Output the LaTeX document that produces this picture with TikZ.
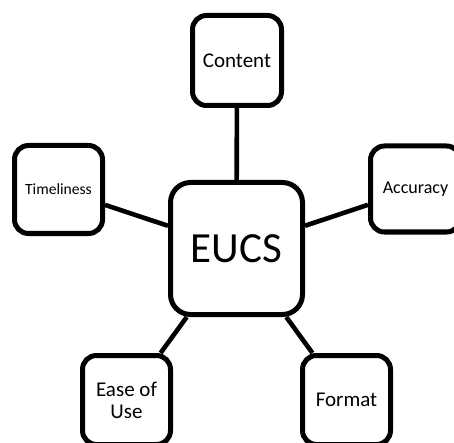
\documentclass[tikz,border=0pt]{standalone}
\usepackage{fontspec}
\setmainfont{Carlito}
\begin{document}
\begin{tikzpicture}[x=1pt,y=-1pt,
  box/.style={draw=black,line width=5pt,rounded corners=14pt,fill=white,
    inner sep=0pt,align=center,minimum width=88pt,minimum height=89pt},
  link/.style={line width=4.6pt}]
\useasboundingbox (0,0) rectangle (454,443);
\clip (0,0) rectangle (454,443);
\node[box,minimum width=132pt,minimum height=132pt,rounded corners=20pt,
  font=\fontsize{43}{46}\selectfont] (eucs) at (236.5,248.5) {EUCS};
\node[box,minimum width=89pt,minimum height=90pt,font=\fontsize{21}{22}\selectfont] (content) at (237,60.5) {Content};
\node[box,minimum width=88pt,minimum height=88pt,font=\fontsize{15.6}{17}\selectfont] (time) at (58.5,189.5) {Timeliness};
\node[box,minimum width=90pt,minimum height=86pt,font=\fontsize{18}{20}\selectfont] (acc) at (415.5,189) {Accuracy};
\node[box,font=\fontsize{21}{22}\selectfont] (ease) at (126.5,400) {Ease of\\Use};
\node[box,font=\fontsize{21}{22}\selectfont] (format) at (346.5,400) {Format};
\draw[link] (eucs) -- (content);
\draw[link] (eucs) -- (time);
\draw[link] (eucs) -- (acc);
\draw[link] (eucs) -- (ease);
\draw[link] (eucs) -- (format);
\end{tikzpicture}
\end{document}
